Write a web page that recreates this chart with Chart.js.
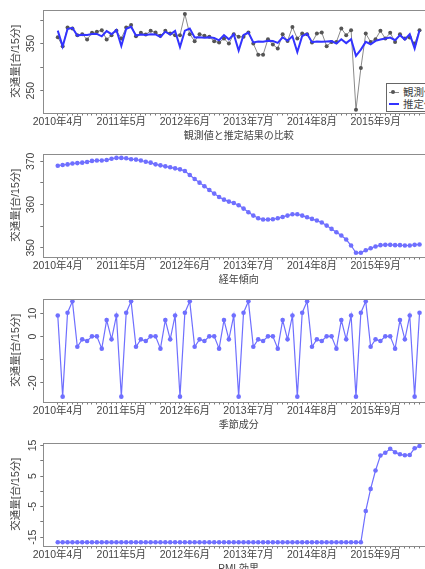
<!DOCTYPE html>
<html><head><meta charset="utf-8">
<script src="https://cdn.jsdelivr.net/npm/chart.js@4.4.1/dist/chart.umd.min.js"></script>
<style>
html,body{margin:0;padding:0;background:#fff;overflow:hidden;width:425px;height:569px;position:relative}
canvas.p{position:absolute;left:0}
#legend{position:absolute;left:386px;top:83px;width:80px;height:27px;border:1px solid #666;background:#fff;
  font:10.5px 'Liberation Sans','Noto Sans CJK JP',sans-serif;color:#444}
#legend .row{position:absolute;left:0;height:13px;line-height:13px;white-space:nowrap}
#legend .sw{position:absolute;left:2px;top:6px;width:10px;height:0}
#legend .dot{position:absolute;left:4px;top:4px;width:4px;height:4px;border-radius:50%;background:#555}
#legend .tx{position:absolute;left:16px;top:0}
</style>
</head><body>
<canvas class="p" id="c1" width="450" height="144" style="top:0px"></canvas>
<canvas class="p" id="c2" width="450" height="144" style="top:144px"></canvas>
<canvas class="p" id="c3" width="450" height="144" style="top:289px"></canvas>
<canvas class="p" id="c4" width="450" height="144" style="top:433px"></canvas>
<div id="legend">
  <div class="row" style="top:2px"><div class="sw" style="border-top:1px solid #8a8a8a"></div><div class="dot"></div><span class="tx">観測値</span></div>
  <div class="row" style="top:14px"><div class="sw" style="border-top:2px solid #3333ff;top:5px"></div><span class="tx">推定値</span></div>
</div>
<script>
// x tick labels (every 13 months), index 0 = 2010年4月
const xTickLabels = ["2010年4月","2011年5月","2012年6月","2013年7月","2014年8月","2015年9月"];
const xTickIndex = [0,13,26,39,52,65];

const observed = [363.5,344.3,384.3,382.1,367.9,370,358.6,372.8,375,378.6,358.6,367.9,
  377.1,360.7,384.3,389.3,365.7,372.8,369.3,377.1,373.6,366.4,377.1,371.4,
  367.9,367.9,412.8,370,355,370,366.4,364.3,355,352.1,360.7,350,
  370,364.3,364.3,373.6,350,326.4,326.4,359.3,347.9,339.3,370,355.7,
  385,360.7,371.4,370,352.1,371.4,373.6,344.3,353.6,353.6,382.1,367.9,
  378.6,209.3,297.9,371.4,353.6,359.3,377.1,360.7,372.8,353.6,370,360.7,
  362.9,350,378.6];
const estimated = [377.5,344,381,383.5,367,369,368.5,370.5,370.5,365.5,376.5,370,
  379,345,381.5,385.7,367,369.3,368.5,369.9,369.5,364,375.3,369,
  377.1,342.9,377.5,382.1,363,363.4,362.6,363.2,361.7,357,368,359,
  369.8,335,368.5,373.5,352.6,354.5,354,356.2,355.5,351.5,363.5,356,
  365.5,332,366,371,353,354.3,353.8,354.5,355.2,350,359.3,351,
  359.4,324,337.1,353.6,348.6,355.7,358.6,360.7,362.9,357.1,367.9,358.6,
  370,339.3,378.6];
const trend = [369.0,369.15,369.3,369.5,369.6,369.7,369.85,370.1,370.2,370.2,370.3,370.6,
  370.8,370.8,370.7,370.5,370.4,370.2,369.9,369.7,369.31,369.08,368.85,368.62,
  368.38,368.15,367.77,366.85,365.92,365.08,364.23,363.38,362.54,361.77,361.15,360.69,
  360.38,359.85,359.08,358.23,357.46,356.85,356.54,356.54,356.62,356.85,357.15,357.46,
  357.77,357.77,357.46,357.08,356.69,356.31,355.85,355.15,354.38,353.62,352.85,351.92,
  350.54,348.85,348.85,349.46,349.92,350.31,350.62,350.69,350.69,350.62,350.62,350.54,
  350.54,350.69,350.77];
const seasonal = [9.1,-25.9,10.3,15.2,-4.4,-1.2,-1.9,0.1,0.1,-5.2,7.1,-1.2,
  9.1,-25.9,10.3,15.2,-4.4,-1.2,-1.9,0.1,0.1,-5.2,7.1,-1.2,
  9.1,-25.9,10.3,15.2,-4.4,-1.2,-1.9,0.1,0.1,-5.2,7.1,-1.2,
  9.1,-25.9,10.3,15.2,-4.4,-1.2,-1.9,0.1,0.1,-5.2,7.1,-1.2,
  9.1,-25.9,10.3,15.2,-4.4,-1.2,-1.9,0.1,0.1,-5.2,7.1,-1.2,
  9.1,-25.9,10.3,15.2,-4.4,-1.2,-1.9,0.1,0.1,-5.2,7.1,-1.2,
  9.1,-25.9,10.3];
const intervention = [-16.65,-16.65,-16.65,-16.65,-16.65,-16.65,-16.65,-16.65,-16.65,-16.65,-16.65,-16.65,
  -16.65,-16.65,-16.65,-16.65,-16.65,-16.65,-16.65,-16.65,-16.65,-16.65,-16.65,-16.65,
  -16.65,-16.65,-16.65,-16.65,-16.65,-16.65,-16.65,-16.65,-16.65,-16.65,-16.65,-16.65,
  -16.65,-16.65,-16.65,-16.65,-16.65,-16.65,-16.65,-16.65,-16.65,-16.65,-16.65,-16.65,
  -16.65,-16.65,-16.65,-16.65,-16.65,-16.65,-16.65,-16.65,-16.65,-16.65,-16.65,-16.65,
  -16.65,-16.65,-16.65,-6.4,0.8,6.8,11.7,12.6,13.9,12.8,12.1,11.8,
  11.9,14.1,14.8];

const yTitle = '交通量[台/15分]';
const p1YTicks = [250,300,350,400], p1YLabels = [250,350];
const p2YTicks = [350,355,360,365,370], p2YLabels = [350,360,370];
const p3YTicks = [-20,-10,0,10], p3YLabels = [-20,0,10];
const p4YTicks = [-15,-10,-5,0,5,10,15], p4YLabels = [-15,-5,5,15];

const FONT = "'Liberation Sans','Noto Sans CJK JP',sans-serif";
const TXT = '#444';
const toXY = arr => arr.map((v,i)=>({x:i,y:v}));
const monthTicks = observed.map((_,i)=>i);

const boxPlugin = {id:'box', afterDatasetsDraw(c){
  const a=c.chartArea, ctx=c.ctx; ctx.save(); ctx.strokeStyle='#8c8c8c'; ctx.lineWidth=1;
  ctx.strokeRect(Math.round(a.left)+0.5, Math.round(a.top)+0.5, Math.round(a.right-a.left), Math.round(a.bottom-a.top));
  ctx.restore(); }};

function panel(id, datasets, yMin, yMax, yTicks, yLabels, xTitle){
  new Chart(document.getElementById(id), {
    type:'line',
    data:{datasets},
    plugins:[boxPlugin],
    options:{
      responsive:false, animation:false, devicePixelRatio:1,
      layout:{padding:{left:0,right:16,top:10,bottom:0}},
      plugins:{legend:{display:false}, tooltip:{enabled:false}},
      scales:{
        x:{type:'linear', min:-2.96, max:76.96,
          afterBuildTicks: s => { s.ticks = monthTicks.map(v=>({value:v})); },
          afterFit: s => { s.height = 31.5; },
          grid:{drawOnChartArea:false, drawTicks:true, tickLength:3, color:'#777'},
          border:{display:false},
          ticks:{autoSkip:false, minRotation:0, maxRotation:0, padding:0, color:TXT,
            font:{family:FONT, size:10.5},
            callback: v => { const k = xTickIndex.indexOf(v); return k>=0 ? xTickLabels[k] : ''; }},
          title:{display:true, text:xTitle, color:TXT, font:{family:FONT, size:10}, padding:{top:0,bottom:2}}
        },
        y:{type:'linear', min:yMin, max:yMax,
          afterBuildTicks: s => { s.ticks = yTicks.map(v=>({value:v})); },
          afterFit: s => { s.width = 43.3; },
          grid:{drawOnChartArea:false, drawTicks:true, tickLength:3, color:'#777'},
          border:{display:false},
          ticks:{autoSkip:false, minRotation:90, maxRotation:90, crossAlign:'center', padding:0, color:TXT,
            font:{family:FONT, size:10.5},
            callback: v => yLabels.includes(v) ? String(v) : ''},
          title:{display:true, text:yTitle, color:TXT, font:{family:FONT, size:10.5}, padding:{top:10,bottom:0}}
        }
      }
    }
  });
}

const blueSoft = '#6f6fff';
function softSet(arr){ return {data:toXY(arr), borderColor:blueSoft, borderWidth:1.2, pointRadius:2.3,
  pointBackgroundColor:blueSoft, pointBorderWidth:0, tension:0}; }

panel('c1', [
  {data:toXY(estimated), borderColor:'#3333ff', borderWidth:2, pointRadius:0, tension:0},
  {data:toXY(observed), borderColor:'#8a8a8a', borderWidth:1, pointRadius:2, pointBackgroundColor:'#555', pointBorderWidth:0, tension:0}
], 203.5, 421.4, p1YTicks, p1YLabels, '観測値と推定結果の比較');
panel('c2', [softSet(trend)], 348.0, 371.7, p2YTicks, p2YLabels, '経年傾向');
panel('c3', [softSet(seasonal)], -28.0, 16.2, p3YTicks, p3YLabels, '季節成分');
panel('c4', [softSet(intervention)], -17.7, 15.8, p4YTicks, p4YLabels, 'PMI 効果');
</script>
</body></html>
